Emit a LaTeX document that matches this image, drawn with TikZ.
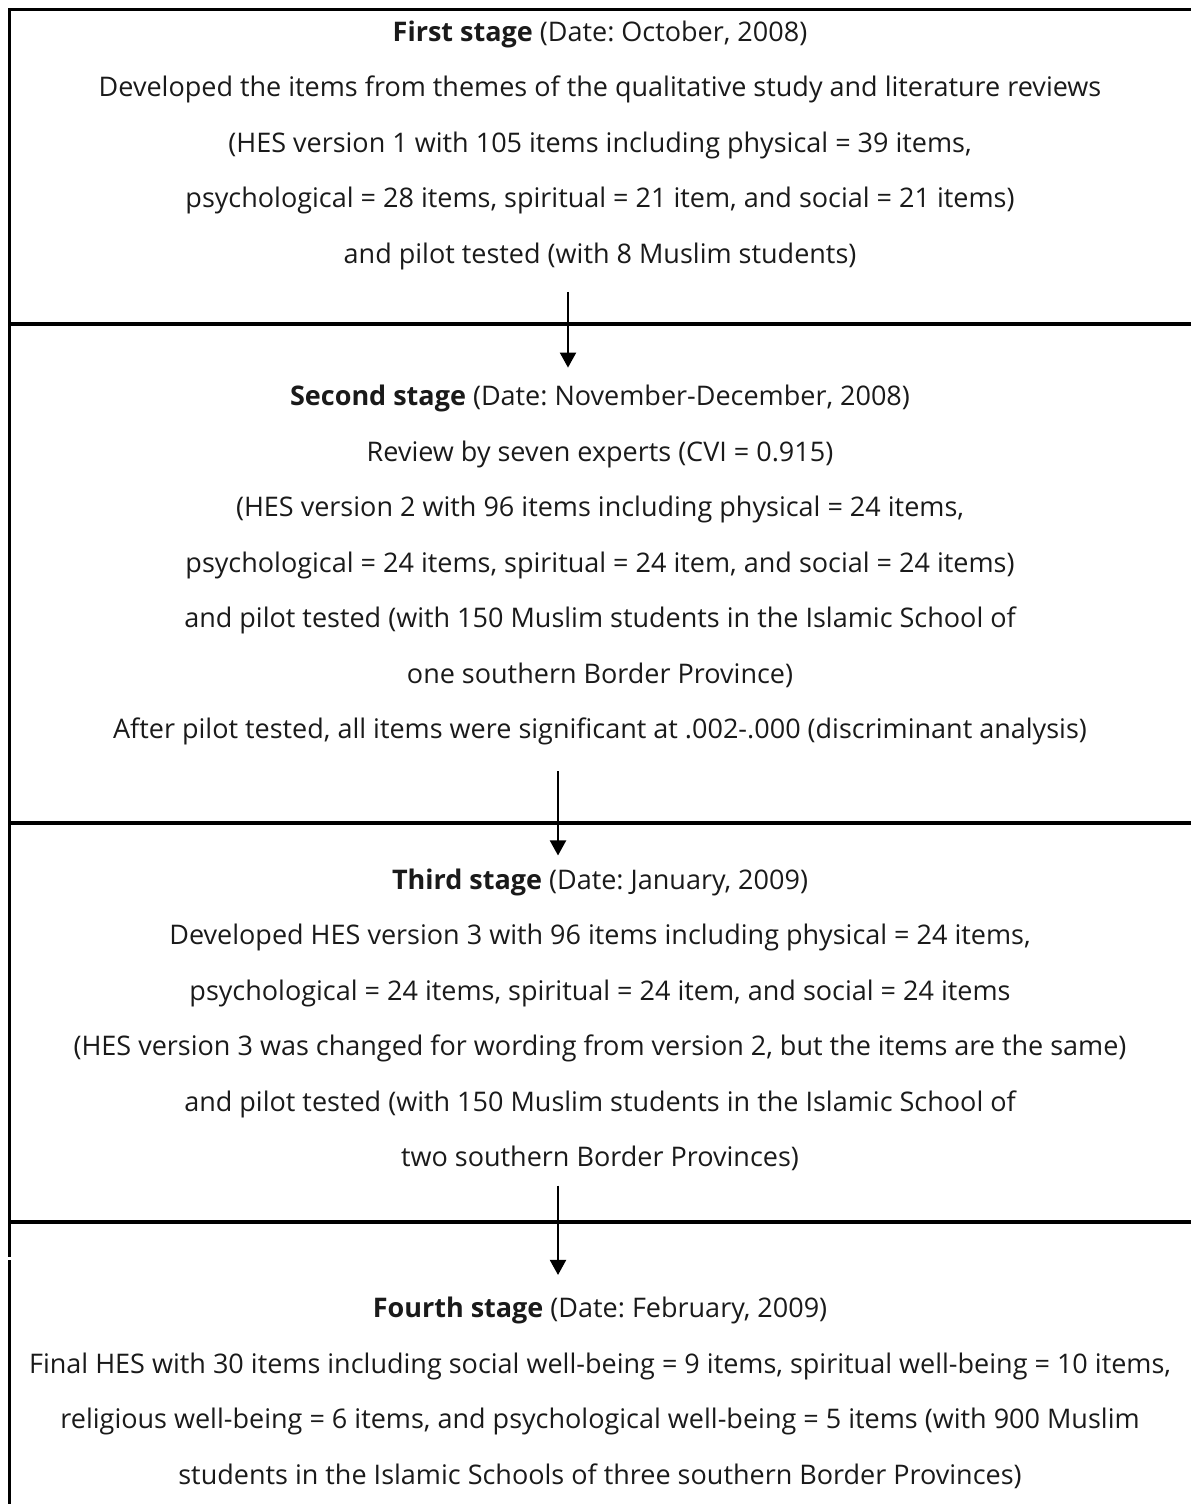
\documentclass[tikz,border=0pt]{standalone}
\usepackage{fontspec}
\setmainfont{Open Sans}
\usetikzlibrary{arrows.meta,calc}
\definecolor{ink}{HTML}{1A1A1A}
\tikzset{
  stagebox/.style={align=center, inner sep=0pt, text=ink,
                   font=\fontsize{13.5}{27.75}\selectfont\frenchspacing},
  frame/.style={line width=1.5pt, draw=black},
  rule/.style={line width=2pt, draw=black},
  flow/.style={-{Triangle[length=7.5pt,width=8pt]}, line width=1pt, draw=black},
}
\begin{document}
\begin{tikzpicture}[x=0.5pt, y=-0.5pt]
  \useasboundingbox (0,0) rectangle (1191,1504);

  % ---------------------------------------------------------- the stages
  \node[stagebox] (first) at (600,145) {\textbf{First stage} (Date: October, 2008)\\
    Developed the items from themes of the qualitative study and literature reviews\\
    (HES version 1 with 105 items including physical = 39 items,\\
    psychological = 28 items, spiritual = 21 item, and social = 21 items)\\
    and pilot tested (with 8 Muslim students)};
  \node[stagebox] (second) at (600,565) {\textbf{Second stage} (Date: November-December, 2008)\\
    Review by seven experts (CVI = 0.915)\\
    (HES version 2 with 96 items including physical = 24 items,\\
    psychological = 24 items, spiritual = 24 item, and social = 24 items)\\
    and pilot tested (with 150 Muslim students in the Islamic School of\\
    one southern Border Province)\\
    After pilot tested, all items were significant at .002-.000 (discriminant analysis)};
  \node[stagebox] (third) at (600,1020) {\textbf{Third stage} (Date: January, 2009)\\
    Developed HES version 3 with 96 items including physical = 24 items,\\
    psychological = 24 items, spiritual = 24 item, and social = 24 items\\
    (HES version 3 was changed for wording from version 2, but the items are the same)\\
    and pilot tested (with 150 Muslim students in the Islamic School of\\
    two southern Border Provinces)};
  \node[stagebox] (fourth) at (600,1393) {\textbf{Fourth stage} (Date: February, 2009)\\
    Final HES with 30 items including social well-being = 9 items, spiritual well-being = 10 items,\\
    religious well-being = 6 items, and psychological well-being = 5 items (with 900 Muslim\\
    students in the Islamic Schools of three southern Border Provinces)};

  % ---------------------------------------------------------- the frame
  \draw[frame] (8,10) -- (1191,10);
  \draw[frame] (9,10) -- (9,1257);
  \draw[frame] (9,1260) -- (9,1504);
  \draw[rule] (9,324) -- (1191,324);
  \draw[rule] (9,823) -- (1191,823);
  \draw[rule] (9,1222) -- (1191,1222);

  % ---------------------------------------------------------- the arrows
  \draw[flow] ($(first.south)+(-32,22)$) -- ($(second.north)+(-32,-17)$);
  \draw[flow] ($(second.south)+(-42,26)$) -- ($(third.north)+(-42,-13)$);
  \draw[flow] ($(third.south)+(-42,14)$) -- ($(fourth.north)+(-42,-22)$);
\end{tikzpicture}
\end{document}
